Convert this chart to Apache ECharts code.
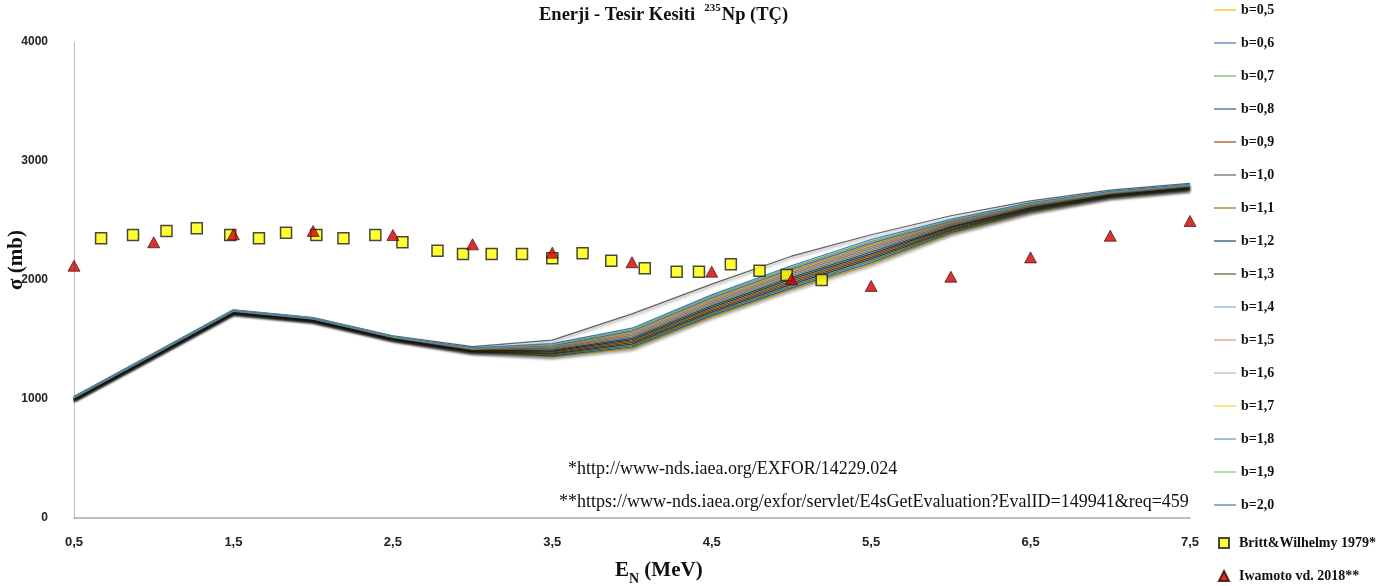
<!DOCTYPE html>
<html>
<head>
<meta charset="utf-8">
<script src="https://cdn.jsdelivr.net/npm/echarts@6/dist/echarts.min.js"></script>
<style>html,body{margin:0;padding:0;background:#fff;}#c{width:1400px;height:586px;}</style>
</head>
<body>
<div id="c"></div>
<script>
// ---- data ----
const energies = [0.5, 1.0, 1.5, 2.0, 2.5, 3.0, 3.5, 4.0, 4.5, 5.0, 5.5, 6.0, 6.5, 7.0, 7.5];
const xTickLabels = ['0,5', '1,5', '2,5', '3,5', '4,5', '5,5', '6,5', '7,5'];
const yTickLabels = ['0', '1000', '2000', '3000', '4000'];

const b05 = [1000, 1360, 1725, 1660, 1505, 1395, 1355, 1425, 1690, 1920, 2130, 2390, 2570, 2695, 2758];
const b06 = [1001, 1361, 1726, 1661, 1506, 1397, 1363, 1437, 1703, 1934, 2145, 2399, 2576, 2699, 2761];
const b07 = [1002, 1363, 1728, 1663, 1508, 1400, 1371, 1449, 1717, 1949, 2160, 2407, 2581, 2702, 2765];
const b08 = [1003, 1364, 1729, 1664, 1509, 1402, 1379, 1461, 1730, 1963, 2175, 2416, 2587, 2706, 2768];
const b09 = [1004, 1366, 1731, 1666, 1511, 1405, 1386, 1474, 1743, 1977, 2190, 2424, 2593, 2709, 2771];
const b10 = [1020, 1385, 1750, 1685, 1530, 1440, 1495, 1715, 1965, 2200, 2380, 2540, 2665, 2755, 2812];
const b11 = [1005, 1367, 1732, 1667, 1512, 1407, 1394, 1486, 1756, 1991, 2205, 2433, 2599, 2713, 2775];
const b12 = [1006, 1369, 1734, 1669, 1514, 1410, 1402, 1498, 1769, 2006, 2220, 2442, 2604, 2717, 2778];
const b13 = [1007, 1370, 1735, 1670, 1515, 1412, 1410, 1510, 1783, 2020, 2235, 2450, 2610, 2720, 2782];
const b14 = [1009, 1371, 1736, 1671, 1516, 1415, 1418, 1522, 1796, 2034, 2250, 2459, 2616, 2724, 2785];
const b15 = [1010, 1373, 1738, 1673, 1518, 1417, 1426, 1534, 1809, 2049, 2265, 2467, 2621, 2727, 2788];
const b16 = [1011, 1374, 1739, 1674, 1519, 1420, 1434, 1546, 1822, 2063, 2280, 2476, 2627, 2731, 2792];
const b17 = [1012, 1376, 1741, 1676, 1521, 1422, 1441, 1559, 1835, 2077, 2295, 2484, 2633, 2734, 2795];
const b18 = [1013, 1377, 1742, 1677, 1522, 1425, 1449, 1571, 1849, 2091, 2310, 2493, 2639, 2738, 2798];
const b19 = [1014, 1379, 1744, 1679, 1524, 1427, 1457, 1583, 1862, 2106, 2325, 2501, 2644, 2741, 2802];
const b20 = [1015, 1380, 1745, 1680, 1525, 1430, 1465, 1595, 1875, 2120, 2340, 2510, 2650, 2745, 2805];

const lineNames = ['b=0,5','b=0,6','b=0,7','b=0,8','b=0,9','b=1,0','b=1,1','b=1,2','b=1,3','b=1,4','b=1,5','b=1,6','b=1,7','b=1,8','b=1,9','b=2,0'];
const lineValues = [b05, b06, b07, b08, b09, b10, b11, b12, b13, b14, b15, b16, b17, b18, b19, b20];
const lineColors = ['#FFC000','#4472C4','#70AD47','#255E91','#9E480E','#636363','#997300','#264478','#43682B','#7CAFDD','#F1975A','#B7B7B7','#FFCD33','#698ED0','#8CC168','#327DC2'];

const brittName = 'Britt&Wilhelmy 1979*';
const brittE = [0.67, 0.87, 1.08, 1.27, 1.48, 1.66, 1.83, 2.02, 2.19, 2.39, 2.56, 2.78, 2.94, 3.12, 3.31, 3.50, 3.69, 3.87, 4.08, 4.28, 4.42, 4.62, 4.80, 4.97, 5.19];
const brittS = [2350, 2378, 2412, 2434, 2378, 2350, 2398, 2378, 2350, 2378, 2317, 2246, 2218, 2218, 2218, 2182, 2224, 2162, 2098, 2070, 2070, 2132, 2078, 2042, 2000];

const iwaName = 'Iwamoto vd. 2018**';
const iwaE = [0.5, 1.0, 1.5, 2.0, 2.5, 3.0, 3.5, 4.0, 4.5, 5.0, 5.5, 6.0, 6.5, 7.0, 7.5];
const iwaS = [2120, 2317, 2384, 2412, 2378, 2300, 2230, 2149, 2070, 2006, 1950, 2028, 2190, 2372, 2496];

const note1 = '*http://www-nds.iaea.org/EXFOR/14229.024';
const note2 = '**https://www-nds.iaea.org/exfor/servlet/E4sGetEvaluation?EvalID=149941&req=459';

// ---- chart ----
const chart = echarts.init(document.getElementById('c'), null, {renderer: 'canvas'});
const serif = "'Liberation Serif', 'DejaVu Serif', serif";
const labelFont = "'Liberation Sans Narrow', 'Liberation Sans', sans-serif";
const lineIcon = 'path://M0,0 L22,0 L22,1.2 L0,1.2 Z';

const series = [];
lineNames.forEach((n, k) => {
  series.push({
    type: 'line',
    name: n,
    data: energies.map((e, i) => [e, lineValues[k][i]]),
    symbol: 'none',
    showSymbol: false,
    color: lineColors[k],
    lineStyle: {width: 1.2, color: lineColors[k], shadowColor: 'rgba(0,0,0,0.45)', shadowBlur: 3, shadowOffsetY: 2},
    z: 2,
    silent: true,
    animation: false
  });
});
series.push({
  type: 'scatter', name: brittName,
  data: brittE.map((e, i) => [e, brittS[i]]),
  symbol: 'rect', symbolSize: 11,
  itemStyle: {color: '#FFFF00', borderColor: '#1a1a1a', borderWidth: 1.5},
  z: 5, animation: false
});
series.push({
  type: 'scatter', name: iwaName,
  data: iwaE.map((e, i) => [e, iwaS[i]]),
  symbol: 'triangle', symbolSize: [12, 11],
  itemStyle: {color: '#CC0000', borderColor: '#3a0000', borderWidth: 0.8},
  z: 6, animation: false
});

const legendText = {fontFamily: serif, fontWeight: 'bold', fontSize: 14, color: '#111', lineHeight: 14};

chart.setOption({
  animation: false,
  backgroundColor: '#fff',
  title: {
    text: '{a|Enerji - Tesir Kesiti  }{s|235}{a|Np (TÇ)}',
    left: 539, top: 3, padding: 0,
    textStyle: {
      rich: {
        a: {fontFamily: serif, fontWeight: 'bold', fontSize: 18.5, color: '#111', lineHeight: 22, verticalAlign: 'bottom'},
        s: {fontFamily: serif, fontWeight: 'bold', fontSize: 11, color: '#111', lineHeight: 22, verticalAlign: 'top', padding: [0, 1, 8, 0]}
      }
    }
  },
  grid: {left: 74, right: 210, top: 42, bottom: 68, containLabel: false},
  xAxis: {
    type: 'value', min: 0.5, max: 7.5, interval: 0.5,
    axisLine: {show: true, lineStyle: {color: '#a6a6a6', width: 1.5}},
    axisTick: {show: false},
    splitLine: {show: false},
    axisLabel: {
      margin: 18,
      fontFamily: labelFont, fontWeight: 'bold', fontSize: 13, color: '#222',
      formatter: function (v) {
        const idx = xTickLabels.indexOf(v.toFixed(1).replace('.', ','));
        return idx >= 0 ? xTickLabels[idx] : '';
      }
    }
  },
  yAxis: {
    type: 'value', min: 0, max: 4000, interval: 1000,
    axisLine: {show: true, lineStyle: {color: '#bfbfbf', width: 1}},
    axisTick: {show: false},
    splitLine: {show: false},
    axisLabel: {
      margin: 26,
      fontFamily: labelFont, fontWeight: 'bold', fontSize: 12, color: '#222',
      formatter: function (v) { return yTickLabels[Math.round(v / 1000)]; }
    }
  },
  legend: [
    {
      orient: 'vertical', left: 1214, top: 3, padding: 0,
      itemWidth: 22, itemHeight: 14, itemGap: 19,
      icon: lineIcon, symbolKeepAspect: true,
      data: lineNames,
      textStyle: legendText,
      selectedMode: false
    },
    {
      orient: 'vertical', left: 1218, top: 536, padding: 0, height: 50,
      itemWidth: 10, itemHeight: 10, itemGap: 19,
      data: [{name: brittName, icon: 'rect'}, {name: iwaName, icon: 'triangle'}],
      textStyle: Object.assign({}, legendText, {padding: [0, 0, 0, 5]}),
      selectedMode: false
    }
  ],
  graphic: [
    {type: 'text', left: 568, top: 460, style: {text: note1, font: "18px 'Liberation Serif', serif", fill: '#111'}},
    {type: 'text', left: 559, top: 493, style: {text: note2, font: "18px 'Liberation Serif', serif", fill: '#111'}},
    {type: 'text', x: 17, y: 260, rotation: Math.PI / 2, style: {text: 'σ (mb)', font: "bold 21px 'Liberation Serif', serif", fill: '#111', align: 'center', verticalAlign: 'middle'}},
    {type: 'text', left: 615, top: 560, style: {
      text: '{e|E}{n|N}{e| (MeV)}',
      rich: {
        e: {fontFamily: serif, fontWeight: 'bold', fontSize: 21, lineHeight: 24, fill: '#111', verticalAlign: 'bottom'},
        n: {fontFamily: serif, fontWeight: 'bold', fontSize: 14, lineHeight: 24, fill: '#111', verticalAlign: 'bottom', padding: [0, 0, -5, 0]}
      }
    }}
  ],
  series: series
});
</script>
</body>
</html>
